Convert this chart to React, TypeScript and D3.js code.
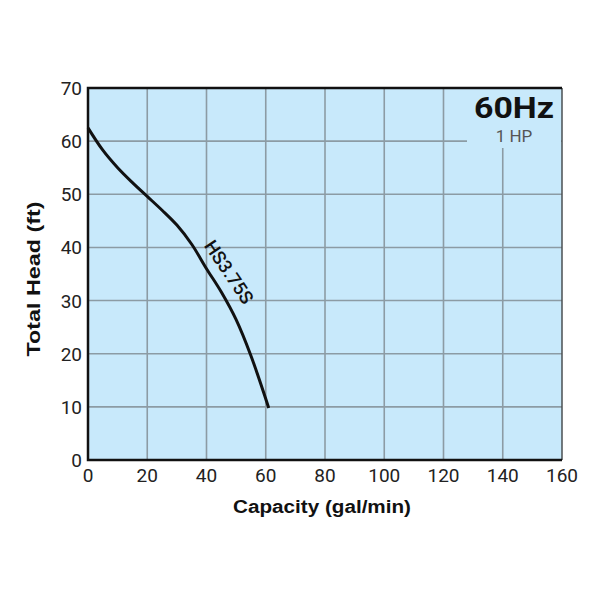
import { useRef, useEffect } from "react";
import * as d3 from "d3";

const flow = [0, 5, 10, 15, 20, 25, 30, 35, 40, 45, 50, 55, 61];
const head = [62.5, 58.3, 55, 52.2, 49.6, 47, 44.2, 40.6, 36.0, 31.6, 26.4, 19.6, 9.8];
const xTicks = [0, 20, 40, 60, 80, 100, 120, 140, 160];
const yTicks = [0, 10, 20, 30, 40, 50, 60, 70];
const curveLabel = "HS3.75S";

const W = 594;
const H = 594;
const font = "Roboto, 'Noto Sans', sans-serif";
const boldFont = "'Liberation Sans', Arial, sans-serif";

export default function App() {
  const ref = useRef<SVGSVGElement>(null);
  useEffect(() => {
    if (!ref.current) return;
    const svg = d3.select(ref.current);
    svg.selectAll("*").remove();

    const x = d3.scaleLinear().domain([0, 160]).range([88, 562]);
    const y = d3.scaleLinear().domain([0, 70]).range([460, 88]);

    svg.append("rect").attr("width", W).attr("height", H).attr("fill", "#fff");

    const bg = "#c8e9fb";
    svg
      .append("rect")
      .attr("x", x(0))
      .attr("y", y(70))
      .attr("width", x(160) - x(0))
      .attr("height", y(0) - y(70))
      .attr("fill", bg);

    // grid
    const grid = svg.append("g").attr("stroke", "#8c9ba4").attr("stroke-width", 1.6);
    grid
      .selectAll("line.v")
      .data(xTicks.filter((d) => d > 0 && d < 160))
      .join("line")
      .attr("x1", (d) => x(d))
      .attr("x2", (d) => x(d))
      .attr("y1", y(0))
      .attr("y2", y(70));
    grid
      .selectAll("line.h")
      .data(yTicks.filter((d) => d > 0 && d < 70))
      .join("line")
      .attr("class", "h")
      .attr("x1", x(0))
      .attr("x2", x(160))
      .attr("y1", (d) => y(d))
      .attr("y2", (d) => y(d));

    // label box hiding grid in the corner
    svg
      .append("rect")
      .attr("x", 467)
      .attr("y", y(70) + 1)
      .attr("width", x(160) - 467 - 1)
      .attr("height", 148 - y(70) - 1)
      .attr("fill", bg);

    // frame
    svg
      .append("line")
      .attr("x1", x(160))
      .attr("x2", x(160))
      .attr("y1", y(70))
      .attr("y2", y(0))
      .attr("stroke", "#4a4f52")
      .attr("stroke-width", 1.5);
    svg
      .append("path")
      .attr("d", `M${x(160)},${y(70)}H${x(0)}V${y(0)}H${x(160)}`)
      .attr("fill", "none")
      .attr("stroke", "#111")
      .attr("stroke-width", 2.5);

    // curve
    const line = d3
      .line<number>()
      .x((_, i) => x(flow[i]))
      .y((d) => y(d))
      .curve(d3.curveCatmullRom);
    svg
      .append("path")
      .attr("d", line(head)!)
      .attr("fill", "none")
      .attr("stroke", "#111")
      .attr("stroke-width", 3);

    svg
      .append("text")
      .attr("transform", `translate(229,272) rotate(56)`)
      .attr("text-anchor", "middle")
      .attr("dy", "0.35em")
      .attr("font-family", font)
      .attr("font-size", 18.5)
      .attr("font-weight", 500)
      .attr("fill", "#111")
      .text(curveLabel);

    // tick labels
    svg
      .append("g")
      .selectAll("text")
      .data(xTicks)
      .join("text")
      .attr("x", (d) => x(d))
      .attr("y", 482)
      .attr("text-anchor", "middle")
      .attr("font-family", font)
      .attr("font-size", 19)
      .attr("fill", "#222")
      .text((d) => d);
    svg
      .append("g")
      .selectAll("text")
      .data(yTicks)
      .join("text")
      .attr("x", 82)
      .attr("y", (d) => y(d) + 7)
      .attr("text-anchor", "end")
      .attr("font-family", font)
      .attr("font-size", 19)
      .attr("fill", "#222")
      .text((d) => d);

    // axis titles
    svg
      .append("text")
      .attr("x", 322)
      .attr("y", 513)
      .attr("text-anchor", "middle")
      .attr("font-family", boldFont)
      .attr("font-size", 18)
      .attr("font-weight", 700)
      .attr("fill", "#111")
      .attr("textLength", 178)
      .attr("lengthAdjust", "spacingAndGlyphs")
      .text("Capacity (gal/min)");
    svg
      .append("text")
      .attr("transform", `translate(40,279) rotate(-90)`)
      .attr("text-anchor", "middle")
      .attr("font-family", boldFont)
      .attr("font-size", 18)
      .attr("font-weight", 700)
      .attr("fill", "#111")
      .attr("textLength", 155)
      .attr("lengthAdjust", "spacingAndGlyphs")
      .text("Total Head (ft)");

    // corner title
    svg
      .append("text")
      .attr("x", 474)
      .attr("y", 118)
      .attr("font-family", font)
      .attr("font-size", 29)
      .attr("font-weight", 700)
      .attr("fill", "#111")
      .attr("textLength", 80)
      .attr("lengthAdjust", "spacingAndGlyphs")
      .text("60Hz");
    svg
      .append("text")
      .attr("x", 514)
      .attr("y", 142)
      .attr("text-anchor", "middle")
      .attr("font-family", font)
      .attr("font-size", 17)
      .attr("fill", "#555")
      .text("1 HP");
  }, []);

  return (
    <svg
      ref={ref}
      width={W}
      height={H}
      style={{ position: "absolute", left: 0, top: 0, display: "block" }}
    />
  );
}
